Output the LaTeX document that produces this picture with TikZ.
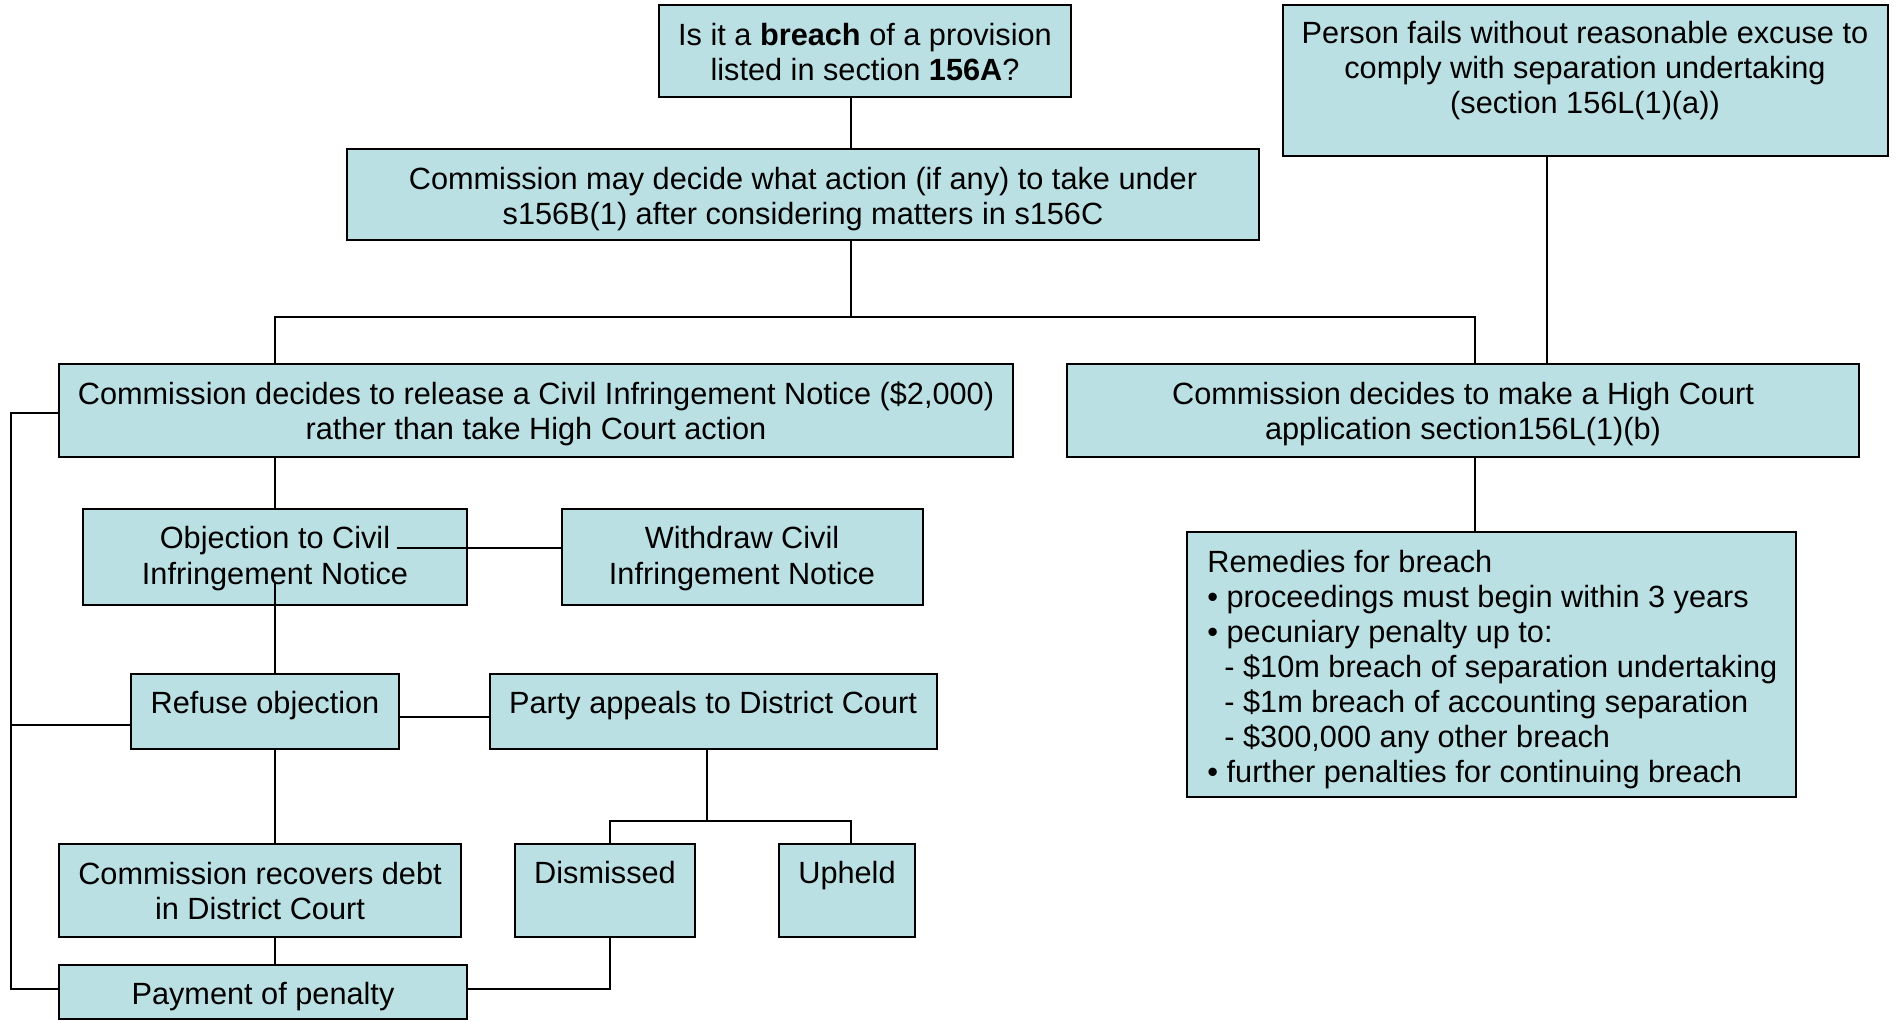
\documentclass[tikz,border=0pt]{standalone}
\usepackage{fontspec}
\setmainfont{Liberation Sans}
\usetikzlibrary{fit}
\definecolor{boxfill}{RGB}{187,224,227}
\tikzset{
  box/.style={draw=black, line width=1pt, fill=boxfill, inner sep=0pt},
  txt/.style={inner sep=0pt, align=center, font=\fontsize{15.35pt}{17.5pt}\selectfont, anchor=base},
  ltxt/.style={inner sep=0pt, align=left, font=\fontsize{15.35pt}{17.5pt}\selectfont, anchor=base west},
  link/.style={draw=black, line width=0.7pt}
}
\begin{document}
\begin{tikzpicture}[x=0.5pt, y=-0.5pt]
\useasboundingbox[fill=white] (0,0) rectangle (1902,1021);
% boxes
\node[box, fit={(659,5) (1071,97)}] (A) {};
\node[box, fit={(347,149) (1259,240)}] (B) {};
\node[box, fit={(1283,5) (1888,156)}] (C) {};
\node[box, fit={(59,364) (1013,457)}] (D) {};
\node[box, fit={(1067,364) (1859,457)}] (E) {};
\node[box, fit={(83,509) (467,605)}] (F) {};
\node[box, fit={(562,509) (923,605)}] (G) {};
\node[box, fit={(131,674) (399,749)}] (H) {};
\node[box, fit={(490,674) (937,749)}] (I) {};
\node[box, fit={(59,844) (461,937)}] (J) {};
\node[box, fit={(515,844) (695,937)}] (K) {};
\node[box, fit={(779,844) (915,937)}] (L) {};
\node[box, fit={(59,965) (467,1019)}] (M) {};
\node[box, fit={(1187,532) (1796,797)}] (N) {};
% texts (anchor base = baseline of the last line)
\node[txt] (At) at (865,81) {Is it a \textbf{breach} of a provision\\listed in section \textbf{156A}?};
\node[txt] (Bt) at (803,225) {Commission may decide what action (if any) to take under\\s156B(1) after considering matters in s156C};
\node[txt] (Ct) at (1585,114) {Person fails without reasonable excuse to\\comply with separation undertaking\\(section 156L(1)(a))};
\node[txt] (Dt) at (536,440) {Commission decides to release a Civil Infringement Notice (\$2,000)\\rather than take High Court action};
\node[txt] (Et) at (1463,440) {Commission decides to make a High Court\\application section156L(1)(b)};
\node[txt] (Ft) at (275,584) {Objection to Civil\\Infringement Notice};
\node[txt] (Gt) at (742,584) {Withdraw Civil\\Infringement Notice};
\node[txt] (Ht) at (265,713) {Refuse objection};
\node[txt] (It) at (713,713) {Party appeals to District Court};
\node[txt] (Jt) at (260,919) {Commission recovers debt\\in District Court};
\node[txt] (Kt) at (605,883) {Dismissed};
\node[txt] (Lt) at (847,883) {Upheld};
\node[txt] (Mt) at (263,1004) {Payment of penalty};
\node[ltxt] (Nt) at (1207,782) {Remedies for breach\\
• proceedings must begin within 3 years\\
• pecuniary penalty up to:\\
\hspace*{8.5pt}- \$10m breach of separation undertaking\\
\hspace*{8.5pt}- \$1m breach of accounting separation\\
\hspace*{8.5pt}- \$300,000 any other breach\\
• further penalties for continuing breach};
% junction coordinates
\coordinate (xAB) at (851,317);
\coordinate (jL) at (275,317);
\coordinate (jR) at (1475,317);
\coordinate (xC) at (1547,0);
\coordinate (fg) at (397,548);
\coordinate (fh) at (275,583);
\coordinate (hi) at (0,717);
\coordinate (lb1) at (11,413);
\coordinate (lb2) at (11,725);
\coordinate (lb3) at (11,989);
\coordinate (ik) at (707,821);
\coordinate (kk) at (610,821);
\coordinate (ll) at (851,821);
\coordinate (mk) at (610,989);
% connectors
\draw[link] (A.south -| xAB) -- (B.north -| xAB);
\draw[link] (B.south -| xAB) -- (xAB);
\draw[link] (D.north -| jL) -- (jL) -- (jR) -- (E.north -| jR);
\draw[link] (C.south -| xC) -- (E.north -| xC);
\draw[link] (D.south -| jL) -- (F.north -| jL);
\draw[link] (fg) -- (G.west |- fg);
\draw[link] (fh) -- (H.north -| fh);
\draw[link] (H.east |- hi) -- (I.west |- hi);
\draw[link] (D.west |- lb1) -- (lb1) -- (lb3) -- (M.west |- lb3);
\draw[link] (lb2) -- (H.west |- lb2);
\draw[link] (H.south -| fh) -- (J.north -| fh);
\draw[link] (J.south -| fh) -- (M.north -| fh);
\draw[link] (I.south -| ik) -- (ik);
\draw[link] (K.north -| kk) -- (kk) -- (ll) -- (L.north -| ll);
\draw[link] (M.east |- mk) -- (mk) -- (K.south -| mk);
\draw[link] (E.south -| jR) -- (N.north -| jR);
\end{tikzpicture}
\end{document}
